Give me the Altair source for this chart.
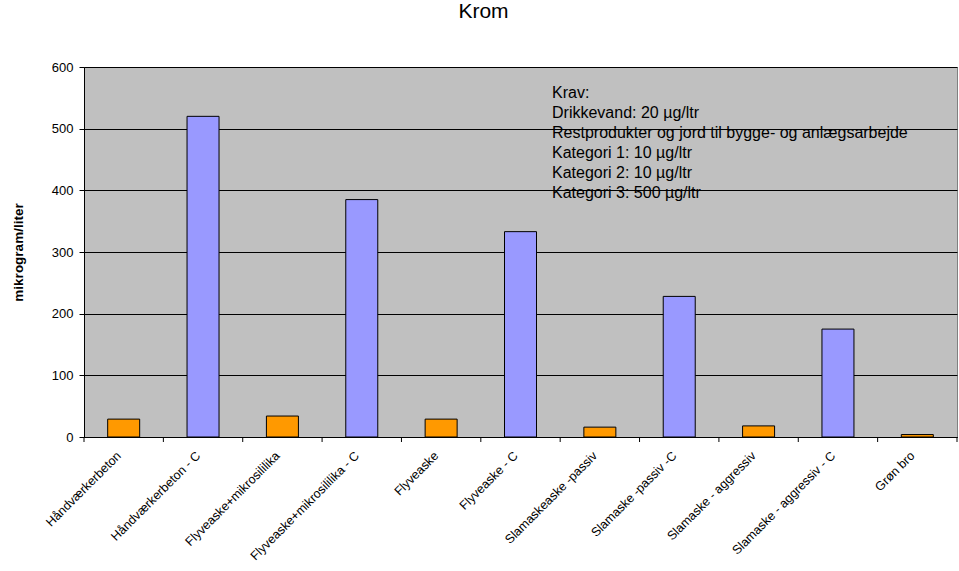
import altair as alt
import pandas as pd

# Chromium leaching per sample (microgram per liter)
samples = [
    "Håndværkerbeton",
    "Håndværkerbeton - C",
    "Flyveaske+mikrosililika",
    "Flyveaske+mikrosililika - C",
    "Flyveaske",
    "Flyveaske - C",
    "Slamaskeaske -passiv",
    "Slamaske -passiv -C",
    "Slamaske - aggressiv",
    "Slamaske - aggressiv - C",
    "Grøn bro",
]
values = [29, 520, 34, 385, 29, 333, 16, 228, 18, 175, 4]
groups = ["plain", "C", "plain", "C", "plain", "C", "plain", "C", "plain", "C", "plain"]

note_lines = [
    "Krav:",
    "Drikkevand: 20 µg/ltr",
    "Restprodukter og jord til bygge- og anlægsarbejde",
    "Kategori 1: 10 µg/ltr",
    "Kategori 2: 10 µg/ltr",
    "Kategori 3: 500 µg/ltr",
]

df = pd.DataFrame({"sample": samples, "value": values, "group": groups})

FONT = "Liberation Sans"
W, H = 873, 370

x_scale = alt.Scale(domain=samples, paddingInner=0, paddingOuter=0)

bars = alt.Chart(df).mark_bar(size=32, stroke="black", strokeWidth=1).encode(
    x=alt.X(
        "sample:N",
        sort=samples,
        scale=x_scale,
        title=None,
        axis=alt.Axis(
            labelAngle=-45,
            labelAlign="right",
            labelBaseline="top",
            labelFont=FONT,
            labelFontSize=12.5,
            labelColor="black",
            labelPadding=12,
            labelOffset=-9,
            ticks=False,
            domain=True,
            domainColor="black",
            labelOverlap=False,
        ),
    ),
    y=alt.Y(
        "value:Q",
        scale=alt.Scale(domain=[0, 600], nice=False),
        title="mikrogram/liter",
        axis=alt.Axis(
            values=[0, 100, 200, 300, 400, 500, 600],
            labelFont=FONT,
            labelFontSize=13,
            labelColor="black",
            labelPadding=6,
            tickColor="black",
            tickSize=5,
            domainColor="black",
            gridColor="black",
            gridOpacity=1,
            gridWidth=1,
            titleFont=FONT,
            titleFontSize=13.5,
            titleFontWeight="bold",
            titleColor="black",
            titleX=-66,
            titleY=H / 2,
            titleAngle=-90,
            titleAlign="center",
            titleBaseline="middle",
        ),
    ),
    color=alt.Color(
        "group:N",
        scale=alt.Scale(domain=["plain", "C"], range=["#FF9900", "#9999FF"]),
        legend=None,
    ),
)

# tick marks between categories on the category axis
ticks = alt.Chart(df).mark_rule(color="black", strokeWidth=1).encode(
    x=alt.X("sample:N", sort=samples, scale=x_scale, bandPosition=0),
    y=alt.value(H),
    y2=alt.value(H + 5),
)
end_tick = alt.Chart(df.head(1)).mark_rule(color="black", strokeWidth=1).encode(
    x=alt.value(W),
    y=alt.value(H),
    y2=alt.value(H + 5),
)

note = alt.Chart(df.head(1)).mark_text(
    align="left",
    baseline="top",
    font=FONT,
    fontSize=16,
    lineHeight=20,
    color="black",
).encode(
    x=alt.value(468),
    y=alt.value(18),
    text=alt.value(note_lines),
)

chart = (
    alt.layer(bars, ticks, end_tick, note)
    .properties(
        width=W,
        height=H,
        title=alt.TitleParams(
            "Krom",
            font=FONT,
            fontSize=21,
            fontWeight="normal",
            color="black",
            anchor="middle",
            dx=-37,
            offset=39,
        ),
        padding={"left": 84, "top": 67, "right": 2, "bottom": 134},
        autosize=alt.AutoSizeParams(type="none"),
        background="white",
    )
    .configure_view(fill="#C0C0C0", stroke="#808080", strokeWidth=1)
)

chart.save("out.html", embed_options={"renderer": "svg", "actions": False})
